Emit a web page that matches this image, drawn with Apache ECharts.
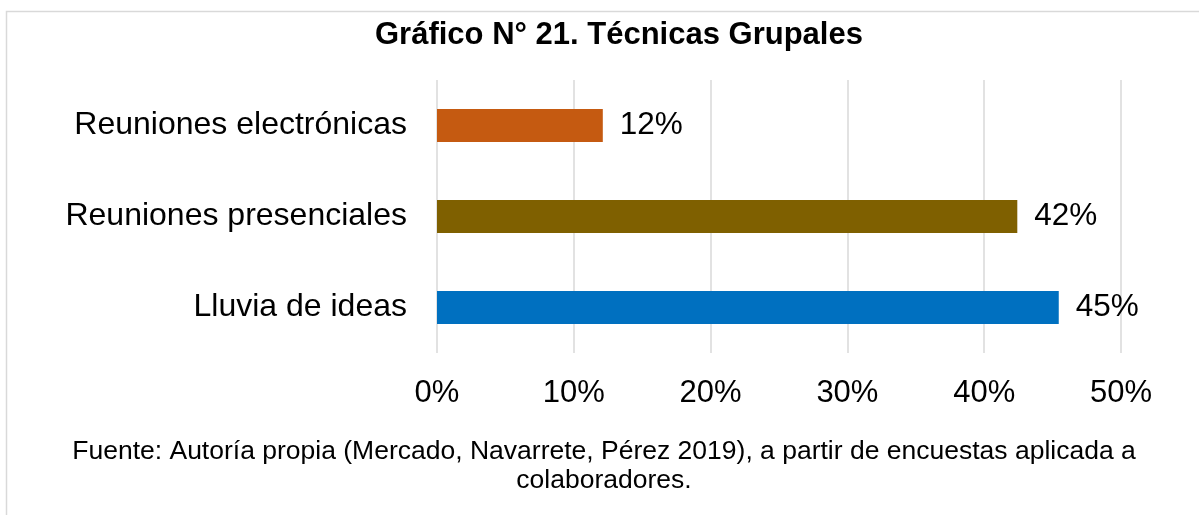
<!DOCTYPE html>
<html>
<head>
<meta charset="utf-8">
<script src="https://cdn.jsdelivr.net/npm/echarts@6/dist/echarts.min.js"></script>
<style>
    html, body { margin: 0; padding: 0; background: #fff; }
    #main { width: 1199px; height: 515px; }
</style>
</head>
<body>
<div id="main"></div>
<script>
    // datos del gráfico
    let categories = ['Reuniones electrónicas', 'Reuniones presenciales', 'Lluvia de ideas'];
    let values = [0.1212, 0.4242, 0.4545];
    let barColors = ['#C55A11', '#7F6000', '#0070C0'];
    let xTicks = [0, 0.1, 0.2, 0.3, 0.4, 0.5];

    let titleText = 'Gráfico N° 21. Técnicas Grupales';
    let sourceLines = [
        'Fuente: Autoría propia (Mercado, Navarrete, Pérez 2019), a partir de encuestas aplicada a',
        'colaboradores.'
    ];

    let font = 'Liberation Sans, Arial, sans-serif';
    let chart = echarts.init(document.getElementById('main'));

    let pct = function (v) { return Math.round(v * 100) + '%'; };

    let option = {
        animation: false,
        title: {
            text: titleText,
            left: 375,
            top: 20,
            padding: 0,
            textStyle: { fontFamily: font, fontSize: 31, fontWeight: 'bold', color: '#000' }
        },
        grid: {
            left: 437,
            right: 78,
            top: 80,
            height: 273,
            containLabel: false
        },
        xAxis: {
            type: 'value',
            min: xTicks[0],
            max: xTicks[xTicks.length - 1],
            interval: 0.1,
            axisLine: { show: false },
            axisTick: { show: false },
            splitLine: { show: true, lineStyle: { color: '#d9d9d9', width: 1.5 } },
            axisLabel: {
                margin: 25,
                fontFamily: font,
                fontSize: 31,
                color: '#000',
                formatter: pct
            }
        },
        yAxis: {
            type: 'category',
            inverse: true,
            data: categories,
            axisLine: { show: false },
            axisTick: { show: false },
            axisLabel: { margin: 30, fontFamily: font, fontSize: 32, color: '#000' }
        },
        series: [{
            type: 'bar',
            barWidth: '36%',
            data: values.map((v, i) => ({ value: v, itemStyle: { color: barColors[i] } })),
            label: {
                show: true,
                position: 'right',
                distance: 17,
                fontFamily: font,
                fontSize: 31.5,
                color: '#000',
                formatter: p => pct(p.value)
            }
        }],
        graphic: [
            {
                type: 'rect',
                silent: true,
                shape: { x: 6.5, y: 11.5, width: 3000, height: 3000 },
                style: { fill: 'none', stroke: '#d9d9d9', lineWidth: 1.5 }
            },
            {
                type: 'text',
                x: 604, y: 452,
                style: {
                    text: sourceLines[0],
                    font: '26.5px ' + font, fill: '#000',
                    textAlign: 'center', textVerticalAlign: 'middle'
                }
            },
            {
                type: 'text',
                x: 604, y: 481,
                style: {
                    text: sourceLines[1],
                    font: '26.5px ' + font, fill: '#000',
                    textAlign: 'center', textVerticalAlign: 'middle'
                }
            }
        ]
    };

    chart.setOption(option);
</script>
</body>
</html>
